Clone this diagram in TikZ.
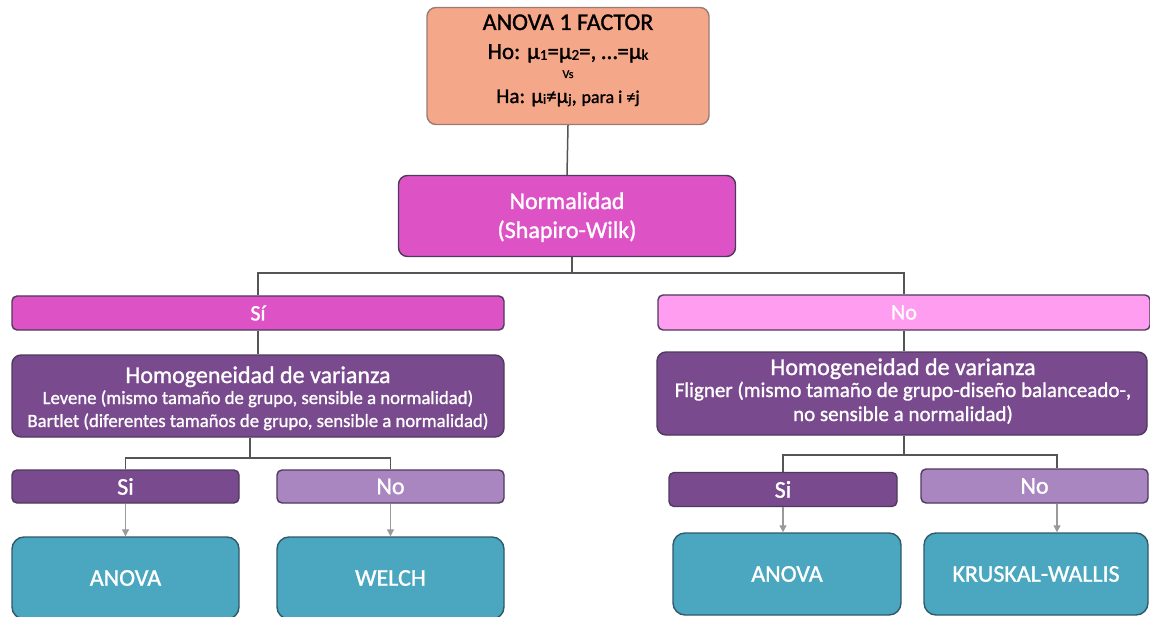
\documentclass[tikz,border=0pt]{standalone}
\usepackage{fontspec}
\setmainfont{Carlito}[FakeBold=1.2]
\usetikzlibrary{arrows.meta}
\definecolor{cSal}{HTML}{F5A789}
\definecolor{cSalB}{HTML}{9A7C74}
\definecolor{cMag}{HTML}{DD53C5}
\definecolor{cPink}{HTML}{FF9EF0}
\definecolor{cPurp}{HTML}{7A4A8E}
\definecolor{cLav}{HTML}{AA86C0}
\definecolor{cTeal}{HTML}{4AA7BF}
\definecolor{cBord}{HTML}{4E3A5E}
\definecolor{cTealB}{HTML}{2F5A6C}
\definecolor{cLine}{HTML}{555555}
\definecolor{cArr}{HTML}{9A9A9A}
\newcommand\musub[2]{\raisebox{-0.8pt}{\fontsize{#1}{#1}\selectfont #2}}
\tikzset{
  box/.style={draw=cBord, line width=1.4pt, rounded corners=9pt, inner sep=0pt, text=white},
  bar/.style={box, rounded corners=5pt},
  res/.style={draw=cTealB, line width=1.4pt, rounded corners=12pt, fill=cTeal, inner sep=0pt, text=white, font=\fontsize{24}{28}\selectfont},
  conn/.style={draw=cLine, line width=1.5pt},
  arr/.style={draw=cArr, line width=1.2pt, -{Triangle[length=7pt,width=7pt]}},
  lbl/.style={inner sep=0pt, anchor=base},
  wlbl/.style={lbl, text=white},
}
\begin{document}
\begin{tikzpicture}[x=1pt,y=-1pt]
\useasboundingbox (0,0) rectangle (1150,617);
\fill[white] (0,0) rectangle (1150,617);
% top box
\node[box, draw=cSalB, fill=cSal, minimum width=282pt, minimum height=117pt] (top) at (568,66) {};
\node[lbl, text=black, font=\fontsize{24}{28}\selectfont] (t1) at (568,30) {ANOVA 1 FACTOR};
\node[lbl, text=black, font=\fontsize{23}{26}\selectfont] (t2) at (568,59) {Ho: μ\musub{15}{1}=μ\musub{15}{2}=, …=μ\musub{15}{k}};
\node[lbl, text=black, font=\fontsize{12}{14}\selectfont] (t3) at (568,78) {Vs};
\node[lbl, text=black, font=\fontsize{21}{24}\selectfont] (t4) at (568,103) {Ha: μ\musub{14}{i}≠μ\musub{14}{j}, {\fontsize{18}{20}\selectfont para i ≠j}};
% normalidad
\node[box, fill=cMag, minimum width=337pt, minimum height=81pt] (norm) at (567,216) {};
\node[wlbl, font=\fontsize{24}{28}\selectfont] (n1) at (567,209) {Normalidad};
\node[wlbl, font=\fontsize{24}{28}\selectfont] (n2) at (567,238) {(Shapiro-Wilk)};
% si / no bars
\node[bar, fill=cMag, minimum width=492pt, minimum height=34pt, font=\fontsize{22}{24}\selectfont] (si) at (258,313) {Sí};
\node[bar, fill=cPink, minimum width=492pt, minimum height=35pt, font=\fontsize{22}{24}\selectfont] (no) at (904,312.5) {No};
% homogeneidad left
\node[box, fill=cPurp, minimum width=492pt, minimum height=82pt] (hl) at (258,396) {};
\node[wlbl, font=\fontsize{24}{28}\selectfont] (hl1) at (258,383) {Homogeneidad de varianza};
\node[wlbl, font=\fontsize{18.7}{22}\selectfont] (hl2) at (258,404) {Levene (mismo tamaño de grupo, sensible a normalidad)};
\node[wlbl, font=\fontsize{18.7}{22}\selectfont] (hl3) at (258,427) {Bartlet (diferentes tamaños de grupo, sensible a normalidad)};
% homogeneidad right
\node[box, fill=cPurp, minimum width=490pt, minimum height=83pt] (hr) at (902,393.5) {};
\node[wlbl, font=\fontsize{24}{28}\selectfont] (hr1) at (903,375) {Homogeneidad de varianza};
\node[wlbl, font=\fontsize{21}{24}\selectfont] (hr2) at (903,397) {Fligner (mismo tamaño de grupo-diseño balanceado-,};
\node[wlbl, font=\fontsize{21}{24}\selectfont] (hr3) at (903,421) {no sensible a normalidad)};
% small si/no
\node[bar, fill=cPurp, minimum width=227pt, minimum height=33pt, font=\fontsize{24}{26}\selectfont] (lsi) at (125.5,486.5) {Si};
\node[bar, fill=cLav, minimum width=227pt, minimum height=33pt, font=\fontsize{24}{26}\selectfont] (lno) at (390.5,486.5) {No};
\node[bar, fill=cPurp, minimum width=228pt, minimum height=34pt, font=\fontsize{24}{26}\selectfont] (rsi) at (783,489.5) {Si};
\node[bar, fill=cLav, minimum width=227pt, minimum height=34pt, font=\fontsize{24}{26}\selectfont] (rno) at (1034.5,486) {No};
% results
\node[res, minimum width=227pt, minimum height=82pt] (ra) at (125.5,578) {ANOVA};
\node[res, minimum width=227pt, minimum height=82pt] (rw) at (390.5,578) {WELCH};
\node[res, minimum width=228pt, minimum height=82pt] (rb) at (787,574) {ANOVA};
\node[res, minimum width=224pt, minimum height=82pt] (rk) at (1036,574) {KRUSKAL-WALLIS};
% connectors
\coordinate (j1) at (572,273);
\coordinate (j2) at (250,458);
\coordinate (j3) at (904,455);
\coordinate (xk) at (1057,0);
\draw[conn] (top.south) -- (norm.north);
\draw[conn] (norm.south -| j1) -- (j1);
\draw[conn] (si.north) |- (j1) -| (no.north);
\draw[conn] (si.south) -- (hl.north);
\draw[conn] (no.south) -- (hr.north -| no.south);
\draw[conn] (hl.south -| j2) -- (j2);
\draw[conn] (lsi.north) |- (j2) -| (lno.north);
\draw[conn] (hr.south -| j3) -- (j3);
\draw[conn] (rsi.north) |- (j3) -| (rno.north -| xk);
\draw[arr] (lsi.south) -- (ra.north);
\draw[arr] (lno.south) -- (rw.north);
\draw[arr] (rsi.south) -- (rb.north -| rsi.south);
\draw[arr] (rno.south -| xk) -- (rk.north -| xk);
\end{tikzpicture}
\end{document}
